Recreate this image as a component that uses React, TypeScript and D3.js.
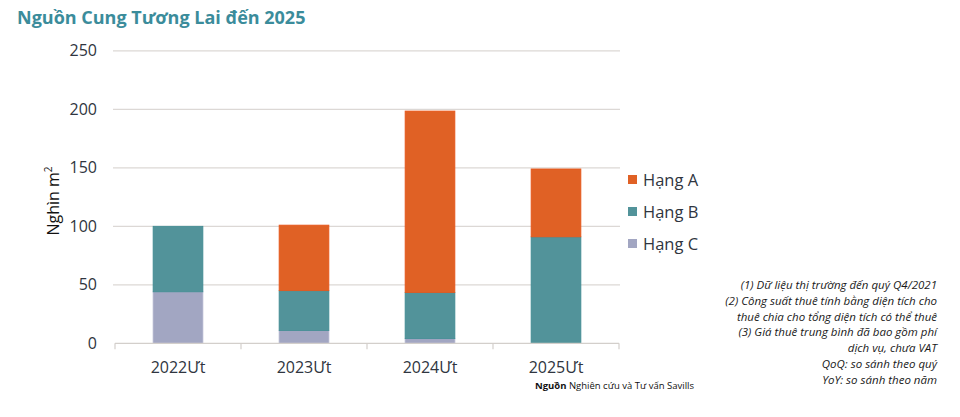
import React from 'react';
import * as d3 from 'd3';

const categories = ['2022Ưt', '2023Ưt', '2024Ưt', '2025Ưt'];
const hangA = [0, 56, 155, 58];
const hangB = [56, 34, 39.5, 91];
const hangC = [44, 11, 4, 0];
const yTicks = [0, 50, 100, 150, 200, 250];
const seriesNames = ['Hạng A', 'Hạng B', 'Hạng C'];
const notes = [
  '(1) Dữ liệu thị trường đến quý Q4/2021',
  '(2) Công suất thuê tính bằng diện tích cho',
  'thuê chia cho tổng diện tích có thể thuê',
  '(3) Giá thuê trung bình đã bao gồm phí',
  'dịch vụ, chưa VAT',
  'QoQ: so sánh theo quý',
  'YoY: so sánh theo năm',
];

const colors: Record<string, string> = { A: '#e06125', B: '#52939a', C: '#a2a6c2' };
const strokes: Record<string, string> = { A: '#e8561a', B: '#3f8b92', C: '#b3b6cf' };
const legendKeys = ['A', 'B', 'C'];

const W = 960;
const H = 417;
const font = '"Open Sans", "Noto Sans", sans-serif';

export default function App() {
  const rows = categories.map((c, i) => ({ cat: c, A: hangA[i], B: hangB[i], C: hangC[i] }));
  const stacked = d3.stack<any>().keys(['C', 'B', 'A'])(rows);

  const x = d3.scaleBand().domain(categories).range([115, 619]);
  const y = d3.scaleLinear().domain([0, 250]).range([343.3, 50.8]);
  const barW = x.bandwidth() * 0.395;

  return (
    <svg width={W} height={H} style={{ position: 'absolute', left: 0, top: 0 }} fontFamily={font}>
      <rect width={W} height={H} fill="#fff" />
      <text x={17} y={24} fontSize={18} fontWeight={700} fill="#3b8c9b">
        Nguồn Cung Tương Lai đến 2025
      </text>

      {/* gridlines */}
      {yTicks.filter(t => t > 0).map(t => (
        <line key={t} x1={113} x2={620} y1={y(t)} y2={y(t)} stroke="#dcd8d5" strokeWidth={1.2} />
      ))}
      {yTicks.map(t => (
        <text key={'l' + t} x={97} y={y(t)} dy="0.35em" textAnchor="end" fontSize={16} fill="#2f3540">
          {t}
        </text>
      ))}
      <text
        transform={`translate(59,${(y(0) + y(250)) / 2 + 4}) rotate(-90)`}
        textAnchor="middle"
        fontSize={16}
        fill="#111"
      >
        Nghìn m<tspan fontSize={10} dy={-7}>2</tspan>
      </text>

      {/* bars */}
      {stacked.map(s => (
        <g key={s.key}>
          {s.map((d, i) => {
            const h = y(d[0]) - y(d[1]);
            if (h <= 0) return null;
            const cx = (x(categories[i]) ?? 0) + x.bandwidth() / 2;
            return (
              <rect
                key={i}
                x={cx - barW / 2}
                y={y(d[1])}
                width={barW}
                height={h}
                fill={colors[s.key]}
                stroke={strokes[s.key]}
                strokeWidth={0.8}
              />
            );
          })}
        </g>
      ))}

      {/* x axis */}
      <line x1={115} x2={619} y1={y(0)} y2={y(0)} stroke="#d3cfcb" strokeWidth={1.3} />
      {[...categories.map(c => x(c) ?? 0), 619].map((px, i) => (
        <line key={'t' + i} x1={px} x2={px} y1={y(0)} y2={y(0) + 6} stroke="#d3cfcb" strokeWidth={1.2} />
      ))}
      {categories.map(c => (
        <text key={c} x={(x(c) ?? 0) + x.bandwidth() / 2} y={373} textAnchor="middle" fontSize={16} fill="#2f3540">
          {c}
        </text>
      ))}

      {/* legend */}
      {legendKeys.map((k, i) => (
        <g key={k} transform={`translate(628,${180 + i * 32})`}>
          <rect x={0} y={-5} width={9} height={9} fill={colors[k]} />
          <text x={15} y={0} dy="0.35em" fontSize={16.5} fill="#2f3540">
            {seriesNames[i]}
          </text>
        </g>
      ))}

      {/* source */}
      <text x={535} y={389} fontSize={9.5} fill="#111">
        <tspan fontWeight={700}>Nguồn</tspan> Nghiên cứu và Tư vấn Savills
      </text>

      {/* notes */}
      {notes.map((n, i) => (
        <text key={i} x={937} y={289 + i * 15.8} textAnchor="end" fontSize={11.5} fontStyle="italic" fill="#1a1a1a">
          {n}
        </text>
      ))}
    </svg>
  );
}
